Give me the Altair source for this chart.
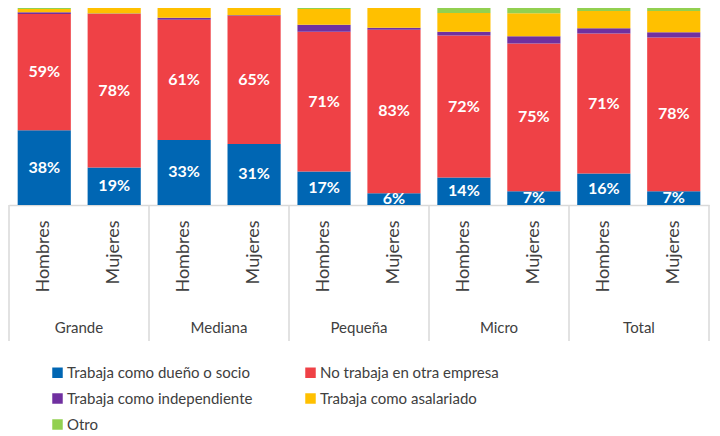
import altair as alt
import pandas as pd

groups = ["Grande", "Mediana", "Pequeña", "Micro", "Total"]
genders = ["Hombres", "Mujeres"]
series = ["Trabaja como dueño o socio", "No trabaja en otra empresa",
          "Trabaja como independiente", "Trabaja como asalariado", "Otro"]
colors = ["#0066B3", "#EF4146", "#7030A0", "#FFC000", "#92D050"]

# values per bar, order: Grande H, Grande M, Mediana H, Mediana M, Pequeña H, Pequeña M, Micro H, Micro M, Total H, Total M
duenio = [38, 19, 33, 31, 17, 6, 14, 7, 16, 7]
no_trabaja = [59, 78, 61, 65, 71, 83, 72, 75, 71, 78]
independiente = [0.8, 0.2, 1.0, 0.3, 3.5, 1.0, 2.0, 3.7, 2.7, 2.7]
asalariado = [1.7, 2.8, 5.0, 3.7, 8.0, 10.0, 9.5, 11.6, 8.8, 10.8]
otro = [0.5, 0.0, 0.0, 0.0, 0.5, 0.0, 2.5, 2.7, 1.5, 1.5]

FONT = "Lato"
W, H = 700, 197

rows = []
vals = [duenio, no_trabaja, independiente, asalariado, otro]
for i in range(10):
    g = groups[i // 2]
    s = genders[i % 2]
    base = 0.0
    for k, name in enumerate(series):
        v = vals[k][i]
        rows.append({
            "key": f"{g}|{s}", "grupo": g, "sexo": s, "serie": name, "ord": k,
            "valor": v, "centro": base + v / 2,
            "etiqueta": f"{int(round(v))}%" if k < 2 else "",
        })
        base += v
df = pd.DataFrame(rows)
keys = [f"{g}|{s}" for g in groups for s in genders]

xscale = alt.Scale(domain=keys, paddingInner=0.24, paddingOuter=0.124)
yscale = alt.Scale(domain=[0, 100], nice=False)
xaxis = alt.Axis(title=None, labelAngle=-90, labelAlign="right", labelBaseline="middle",
                 labelExpr="split(datum.label, '|')[1]", labelFontSize=18,
                 labelFont=FONT, labelColor="#404040", labelPadding=15,
                 ticks=False, domainColor="#D9D9D9", domainWidth=1.5)

bars = alt.Chart(df).mark_bar().encode(
    x=alt.X("key:N", scale=xscale, sort=keys, axis=xaxis),
    y=alt.Y("valor:Q", stack="zero", scale=yscale, axis=None),
    color=alt.Color("serie:N", scale=alt.Scale(domain=series, range=colors),
                    legend=alt.Legend(title=None, orient="none", legendX=41, legendY=357,
                                      columns=2, direction="horizontal", columnPadding=50,
                                      rowPadding=10, labelLimit=0,
                                      symbolType="square", symbolSize=110, symbolStrokeWidth=0,
                                      labelFont=FONT, labelFontSize=15, labelColor="#404040",
                                      labelOffset=2)),
    order=alt.Order("ord:Q", sort="ascending"),
)

labels = alt.Chart(df).mark_text(color="white", fontWeight="bold", fontSize=16, font=FONT,
                                 baseline="middle", clip=True).encode(
    x=alt.X("key:N", scale=xscale, sort=keys, axis=xaxis),
    y=alt.Y("centro:Q", scale=yscale, axis=None),
    text="etiqueta:N",
)

gdf = pd.DataFrame({"grupo": groups, "pos": [i + 0.5 for i in range(5)]})
sdf = pd.DataFrame({"sep": list(range(6))})
qscale = alt.Scale(domain=[0, 5], nice=False, zero=False)

seps = alt.Chart(sdf).mark_rule(color="#D9D9D9", strokeWidth=1.5).encode(
    x=alt.X("sep:Q", scale=qscale, axis=None),
    y=alt.value(H), y2=alt.value(H + 136),
)
glabels = alt.Chart(gdf).mark_text(fontSize=15, font=FONT, color="#404040", baseline="middle").encode(
    x=alt.X("pos:Q", scale=qscale, axis=None),
    y=alt.value(H + 123),
    text="grupo:N",
)

chart = alt.layer(alt.layer(bars, labels), alt.layer(seps, glabels)).resolve_scale(x="independent").properties(
    width=W, height=H, padding={"left": 0, "top": 0, "right": 0, "bottom": 0}
).configure_view(stroke=None)

chart.save("out.html", embed_options={"renderer": "svg", "actions": False})
